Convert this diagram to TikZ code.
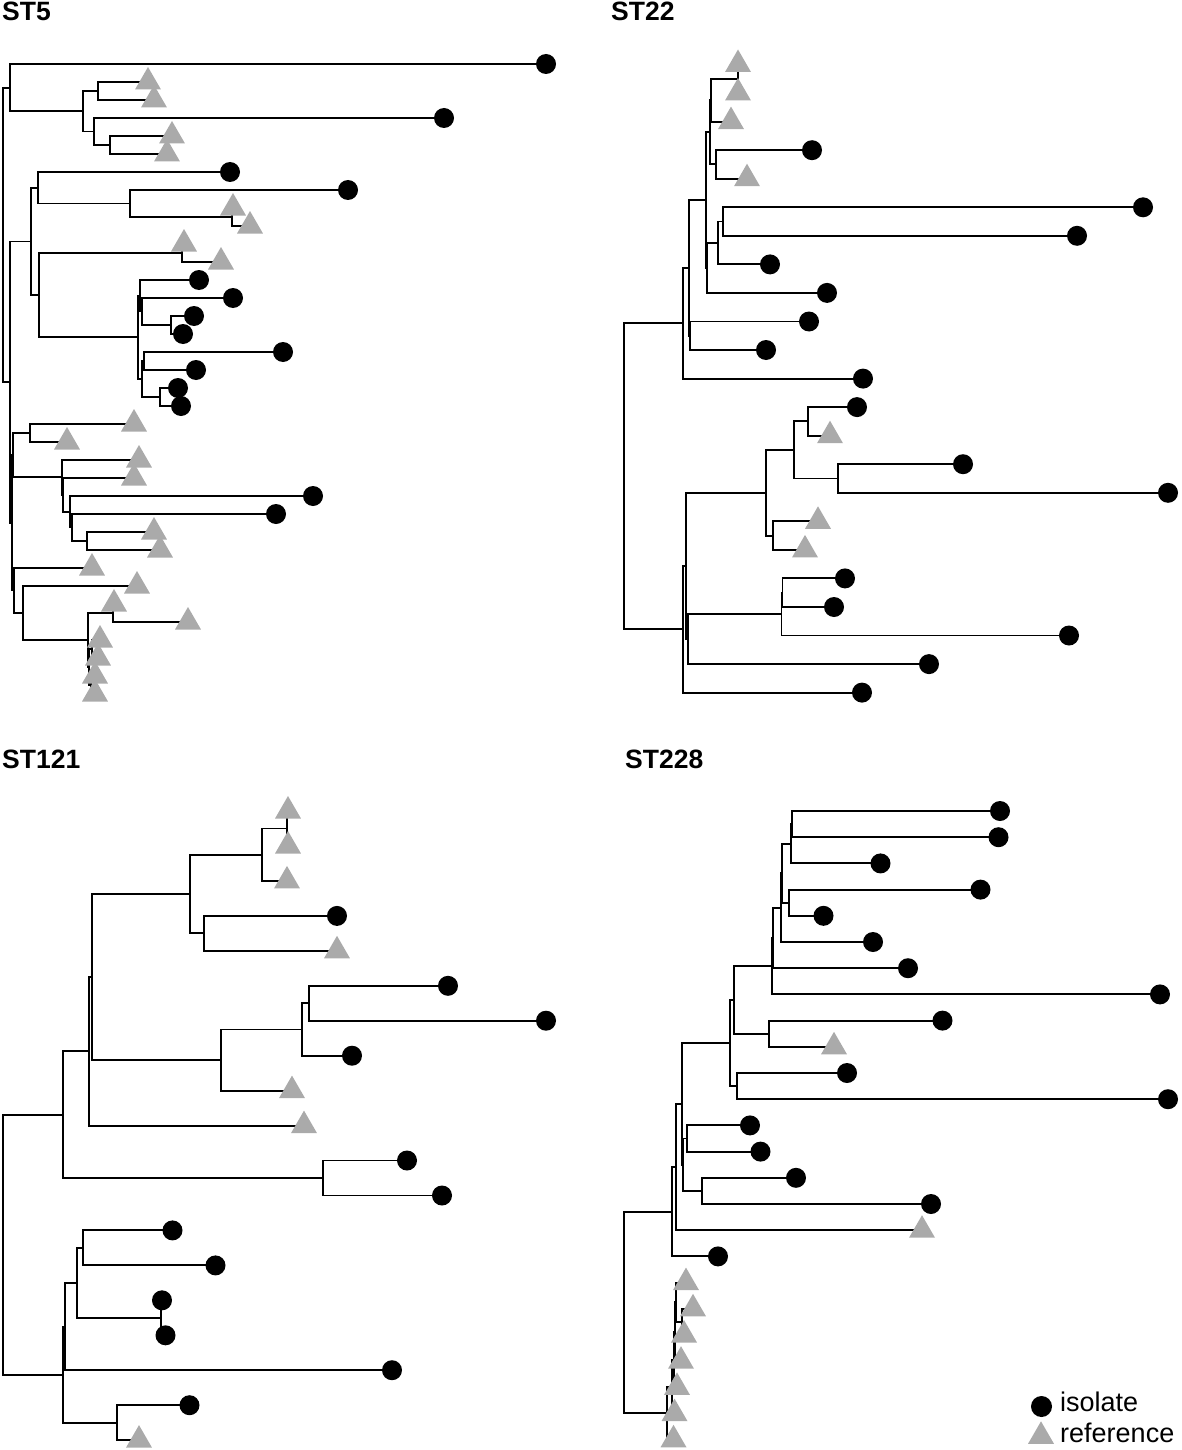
\documentclass[tikz,border=0pt]{standalone}
\usepackage{fontspec}
\setmainfont{Liberation Sans}
\usetikzlibrary{shapes.geometric,backgrounds}
\definecolor{refgray}{RGB}{170,170,170}
\begin{document}
\begin{tikzpicture}[x=1pt,y=-1pt,
  treeline/.style={line width=1.9pt, line join=miter, black},
  isonode/.style={circle, fill=black, draw=none, minimum size=20pt, inner sep=0pt},
  refnode/.style={regular polygon, regular polygon sides=3, fill=refgray, draw=none, minimum size=30pt, inner sep=0pt},
  paneltitle/.style={font=\bfseries\fontsize{26.5}{31}\selectfont, inner sep=0pt, anchor=base west},
  legtext/.style={font=\fontsize{27}{31}\selectfont, inner sep=0pt, anchor=base west}]
\useasboundingbox (0,0) rectangle (1181,1450);

% ---------------- titles
\node[paneltitle] (tA) at (2,21) {ST5};
\node[paneltitle] (tB) at (611,21) {ST22};
\node[paneltitle] (tC) at (2,768) {ST121};
\node[paneltitle] (tD) at (625,768) {ST228};

% ---------------- tips: isolates
\foreach \n/\x/\y in {A0/546/64, A3/444/118, A6/230/172, A7/348/190, A12/199/280, A13/233/298, A14/194/316, A15/183/334, A16/283/352, A17/196/370, A18/178/388, A19/181/406, A24/313/496, A25/276/514,
 B3/812/150.2, B5/1143/207.3, B6/1077/235.8, B7/770/264.4, B8/827/292.9, B9/809/321.5, B10/766/350, B11/863/378.6, B12/857/407.1, B14/963/464.2, B15/1168/492.8, B18/845/578.4, B19/834/607, B20/1069/635.5, B21/929/664.1, B22/862/692.6,
 C3/337/915.9, C5/448/985.8, C6/546/1020.7, C7/352/1055.7, C10/407/1160.5, C11/442/1195.5, C12/172.5/1230.4, C13/215.5/1265.4, C14/162/1300.3, C15/165.5/1335.3, C16/392/1370.2, C17/189.5/1405.2,
 D0/1000/811, D1/998.5/837.2, D2/880.5/863.4, D3/980.5/889.6, D4/823.5/915.8, D5/873/942, D6/908/968.2, D7/1160/994.4, D8/942.5/1020.6, D10/847/1073, D11/1168/1099.2, D12/750/1125.4, D13/760.5/1151.6, D14/796/1177.8, D15/931/1204, D17/718/1256.4}
  {\node[isonode] (\n) at (\x,\y) {};}

% ---------------- tips: references
\foreach \n/\x/\y in {A1/148/82, A2/154/100, A4/172/136, A5/167/154, A8/233/208, A9/250/226, A10/184/244, A11/221/262, A20/134/424, A21/67/442, A22/139/460, A23/134/478, A26/154/532, A27/160/550, A28/92/568, A29/137/586, A30/114/604, A31/188/622, A32/100/640, A33/98/658, A34/95/676, A35/95/694,
 B0/738/64.5, B1/738/93, B2/731/121.6, B4/747/178.7, B13/830/435.7, B16/818/521.3, B17/805/549.9,
 C0/288/811, C1/288/846, C2/287/880.9, C4/337/950.8, C8/292/1090.6, C9/304/1125.6, C18/139/1440.1,
 D9/834/1046.8, D16/922/1230.2, D18/686/1282.6, D19/693/1308.8, D20/684/1335, D21/681/1361.2, D22/677/1387.4, D23/674.5/1413.6, D24/673.5/1439.8}
  {\node[refnode] (\n) at (\x,\y) {};}

% ---------------- internal nodes
\foreach \n/\x/\y in {aNC/98/91, aNE/110/145, aND/94/131.5, aNB/83/111.25, aNA/10/87.6, aNH/232/217, aNG/130/203.5, aNF/38/187.75, aNJ/182/253, aU3/171/325, aU2/142/311.5, aU1/140/295.75, aL2/144/361, aL3/160/397, aL1/142/379, aNK/138/337.4, aNI/39/295.2, aNM/31/241.5, aNQ/30/433, aT2/87/541, aT1/72/527.5, aT0/70/511.75, aS1/63/494.9, aS0/62/477.4, aX/13/455.2, aM1/113/613, aC3/92/649, aC4/91/685, aC2/89/667, aV/88/640, aW/23/613, aY/14/590.5, aZ/12/522.9, aNP/10/382.2, aR/3/234.9,
 ba1/737.7/78.8, ba2/711/100.2, ba4/716/164.4, ba3/710/132.3, ba7/723/221.5, ba8/718/242.9, bb1/707/267.9, ba5/706/200.1, bb2/690/335.7, ba9/689/267.9, ba10/683/323.2, bc1/808/421.4, bc2/838/478.5, bc3/794/450, bc4/773/535.6, bc5/766/492.8, bd1/782.5/592.7, bc6/781.5/614.1, bc7/688/639.1, bc8/686/566, bc9/682.7/629.3, bR/624.3/476.3,
 ce1/286.7/828.5, ce2/262.3/854.7, ce3/204/933.4, ce4/190/894, cf1/309.3/1003.2, cf2/301.7/1029.5, cf3/220.7/1060, cg1/92.3/977, cg2/89.3/1051.3, cg4/322.7/1178, cg3/63.3/1114.6, ch1/83.3/1247.9, ch2/161/1317.8, ch3/77.3/1282.8, ch4/65/1326.5, ch6/117.3/1422.6, ch5/63.3/1374.6, cR/2.7/1244.6,
 dp1/791.7/824.1, dp2/790.7/843.8, dp3/788.7/902.7, dp5/781.7/873.2, dp4/780.7/907.6, dp6a/773.3/937.9, dp6/772/966.2, dp7/769.3/1033.7, dp8/734/1000, dp9/736.7/1086.1, dp10/730/1043, dq1/686.7/1138.5, dq2/702.3/1190.9, dq3/683.3/1164.7, dp11/682.3/1103.8, dp12/675.7/1167, dp13/671.7/1211.7, dr1/681.7/1321.9, drA/676/1302.2, drB/675/1331.7, drC/674/1359.5, drD/672/1386.6, drE/667/1413.2, dR/624.3/1312.5}
  {\coordinate (\n) at (\x,\y);}

% ---------------- branches (behind the tip symbols)
\begin{pgfonlayer}{background}
\foreach \p/\c in {aNC/A1, aNC/A2, aNE/A4, aNE/A5, aND/A3, aND/aNE, aNB/aNC, aNB/aND, aNA/A0, aNA/aNB, aNH/A8, aNH/A9, aNG/A7, aNG/aNH, aNF/A6, aNF/aNG, aNJ/A10, aNJ/A11, aU3/A14, aU3/A15, aU2/A13, aU2/aU3, aU1/A12, aU1/aU2, aL2/A16, aL2/A17, aL3/A18, aL3/A19, aL1/aL2, aL1/aL3, aNK/aU1, aNK/aL1, aNI/aNJ, aNI/aNK, aNM/aNF, aNM/aNI, aNQ/A20, aNQ/A21, aT2/A26, aT2/A27, aT1/A25, aT1/aT2, aT0/A24, aT0/aT1, aS1/A23, aS1/aT0, aS0/A22, aS0/aS1, aX/aNQ, aX/aS0, aM1/A30, aM1/A31, aC3/A32, aC3/A33, aC4/A34, aC4/A35, aC2/aC3, aC2/aC4, aV/aM1, aV/aC2, aW/A29, aW/aV, aY/A28, aY/aW, aZ/aX, aZ/aY, aNP/aNM, aNP/aZ, aR/aNA, aR/aNP,
 ba1/B0, ba1/B1, ba2/ba1, ba2/B2, ba4/B3, ba4/B4, ba3/ba2, ba3/ba4, ba7/B5, ba7/B6, ba8/ba7, ba8/B7, bb1/ba8, bb1/B8, ba5/ba3, ba5/bb1, bb2/B9, bb2/B10, ba9/ba5, ba9/bb2, ba10/ba9, ba10/B11, bc1/B12, bc1/B13, bc2/B14, bc2/B15, bc3/bc1, bc3/bc2, bc4/B16, bc4/B17, bc5/bc3, bc5/bc4, bd1/B18, bd1/B19, bc6/bd1, bc6/B20, bc7/bc6, bc7/B21, bc8/bc5, bc8/bc7, bc9/bc8, bc9/B22, bR/ba10, bR/bc9,
 ce1/C0, ce1/C1, ce2/ce1, ce2/C2, ce3/C3, ce3/C4, ce4/ce2, ce4/ce3, cf1/C5, cf1/C6, cf2/cf1, cf2/C7, cf3/cf2, cf3/C8, cg1/ce4, cg1/cf3, cg2/cg1, cg2/C9, cg4/C10, cg4/C11, cg3/cg2, cg3/cg4, ch1/C12, ch1/C13, ch2/C14, ch2/C15, ch3/ch1, ch3/ch2, ch4/ch3, ch4/C16, ch6/C17, ch6/C18, ch5/ch4, ch5/ch6, cR/cg3, cR/ch5,
 dp1/D0, dp1/D1, dp2/dp1, dp2/D2, dp3/D3, dp3/D4, dp5/dp2, dp5/dp3, dp4/dp5, dp4/D5, dp6a/dp4, dp6a/D6, dp6/dp6a, dp6/D7, dp7/D8, dp7/D9, dp8/dp6, dp8/dp7, dp9/D10, dp9/D11, dp10/dp8, dp10/dp9, dq1/D12, dq1/D13, dq2/D14, dq2/D15, dq3/dq1, dq3/dq2, dp11/dp10, dp11/dq3, dp12/dp11, dp12/D16, dp13/dp12, dp13/D17, dr1/D19, dr1/D20, drA/D18, drA/dr1, drB/drA, drB/D21, drC/drB, drC/D22, drD/drC, drD/D23, drE/drD, drE/D24, dR/dp13, dR/drE}
  {\draw[treeline] (\p.center) |- (\c.center);}
\end{pgfonlayer}

% ---------------- legend
\node[isonode, minimum size=21pt] (legiso) at (1041.5,1406.5) {};
\node[refnode] (legref) at (1041,1436.3) {};
\node[legtext] (legisotext) at (1060,1411) {isolate};
\node[legtext] (legreftext) at (1060,1442) {reference};
\end{tikzpicture}
\end{document}
